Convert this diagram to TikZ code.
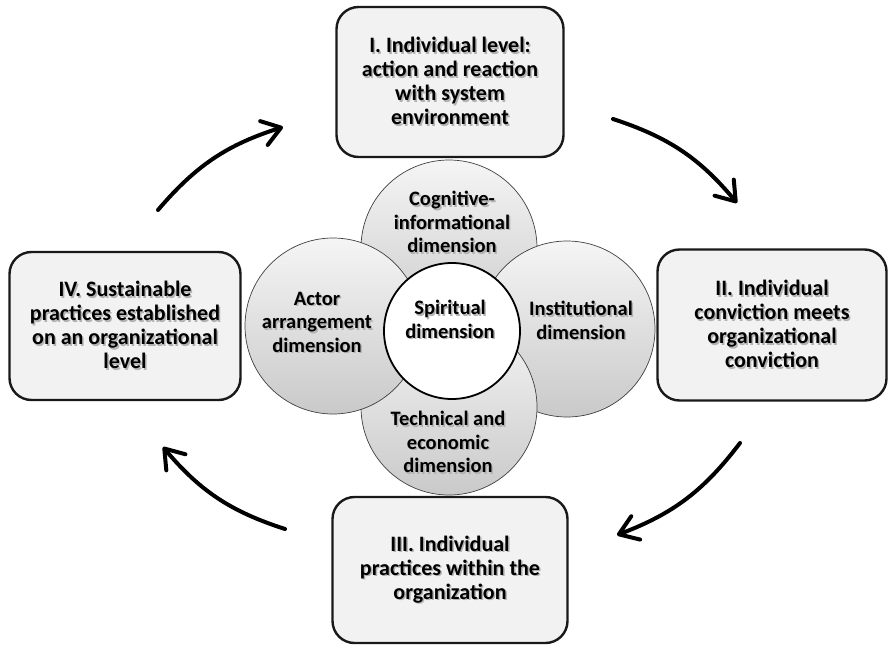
\documentclass[tikz,border=0pt]{standalone}
\usepackage{fontspec}
\setmainfont{Carlito}
\usetikzlibrary{arrows.meta}
% bold text with a soft grey drop shadow behind it
\newcommand\shd[1]{\leavevmode\rlap{\kern1.5pt\raisebox{-1.5pt}{\color{black!30}#1}}#1}
\tikzset{
  stage/.style={draw=black!90, line width=2.4pt, fill=black!5, rounded corners=22pt,
    align=center, font=\bfseries\fontsize{22}{24}\selectfont, inner sep=4pt},
  petal/.style={circle, draw=black!75, line width=0.7pt, minimum size=176pt, inner sep=0pt,
    top color=black!4, bottom color=black!21},
  core/.style={circle, draw=black, line width=1.8pt, fill=white, minimum size=136pt, inner sep=0pt},
  ptext/.style={align=center, font=\bfseries\fontsize{20.5}{23.5}\selectfont, inner sep=0pt},
  cyc/.style={line width=4pt, line cap=round, -{Straight Barb[length=18pt,width=25pt,round]}}
}
\begin{document}
\begin{tikzpicture}[x=1pt,y=-1pt]
\useasboundingbox (0,0) rectangle (888,645);

% the four stages of the cycle
\node[stage, minimum width=227pt, minimum height=150pt] (s1) at (450,82)
  {\shd{I. Individual level:}\\\shd{action and reaction}\\\shd{with system}\\\shd{environment}};
\node[stage, minimum width=229pt, minimum height=151pt] (s2) at (772,325)
  {\shd{II. Individual}\\\shd{conviction meets}\\\shd{organizational}\\\shd{conviction}};
\node[stage, minimum width=235pt, minimum height=146pt] (s3) at (450,570)
  {\shd{III. Individual}\\\shd{practices within the}\\\shd{organization}};
\node[stage, minimum width=231pt, minimum height=148pt] (s4) at (125,326)
  {\shd{IV. Sustainable}\\\shd{practices established}\\\shd{on an organizational}\\\shd{level}};

% overlapping dimension circles
\node[petal] (cog) at (449,248) {};
\node[petal] (inst) at (567,329) {};
\node[petal] (tech) at (449,407) {};
\node[petal] (actor) at (333,326) {};
\node[core] (spirit) at (452,331) {};

\node[ptext] (cogt) at (452,223) {\shd{Cognitive-}\\\shd{informational}\\\shd{dimension}};
\node[ptext] (instt) at (581,321) {\shd{Institutional}\\\shd{dimension}};
\node[ptext] (techt) at (448,443) {\shd{Technical and}\\\shd{economic}\\\shd{dimension}};
\node[ptext] (actort) at (317,323) {\shd{Actor}\\\shd{arrangement}\\\shd{dimension}};
\node[ptext] (spiritt) at (450,320) {\shd{Spiritual}\\\shd{dimension}};

% curved arrows running clockwise between the stages
\coordinate (a1s) at (158,210); \coordinate (a1e) at (283,127);
\coordinate (a2s) at (613,119); \coordinate (a2e) at (737,203);
\coordinate (a3s) at (740,443); \coordinate (a3e) at (617,535);
\coordinate (a4s) at (285,529); \coordinate (a4e) at (163,447);
\draw[cyc] (a1s) to[bend left=16] (a1e);
\draw[cyc] (a2s) to[bend left=16] (a2e);
\draw[cyc] (a3s) to[bend left=16] (a3e);
\draw[cyc] (a4s) to[bend left=16] (a4e);
\end{tikzpicture}
\end{document}
